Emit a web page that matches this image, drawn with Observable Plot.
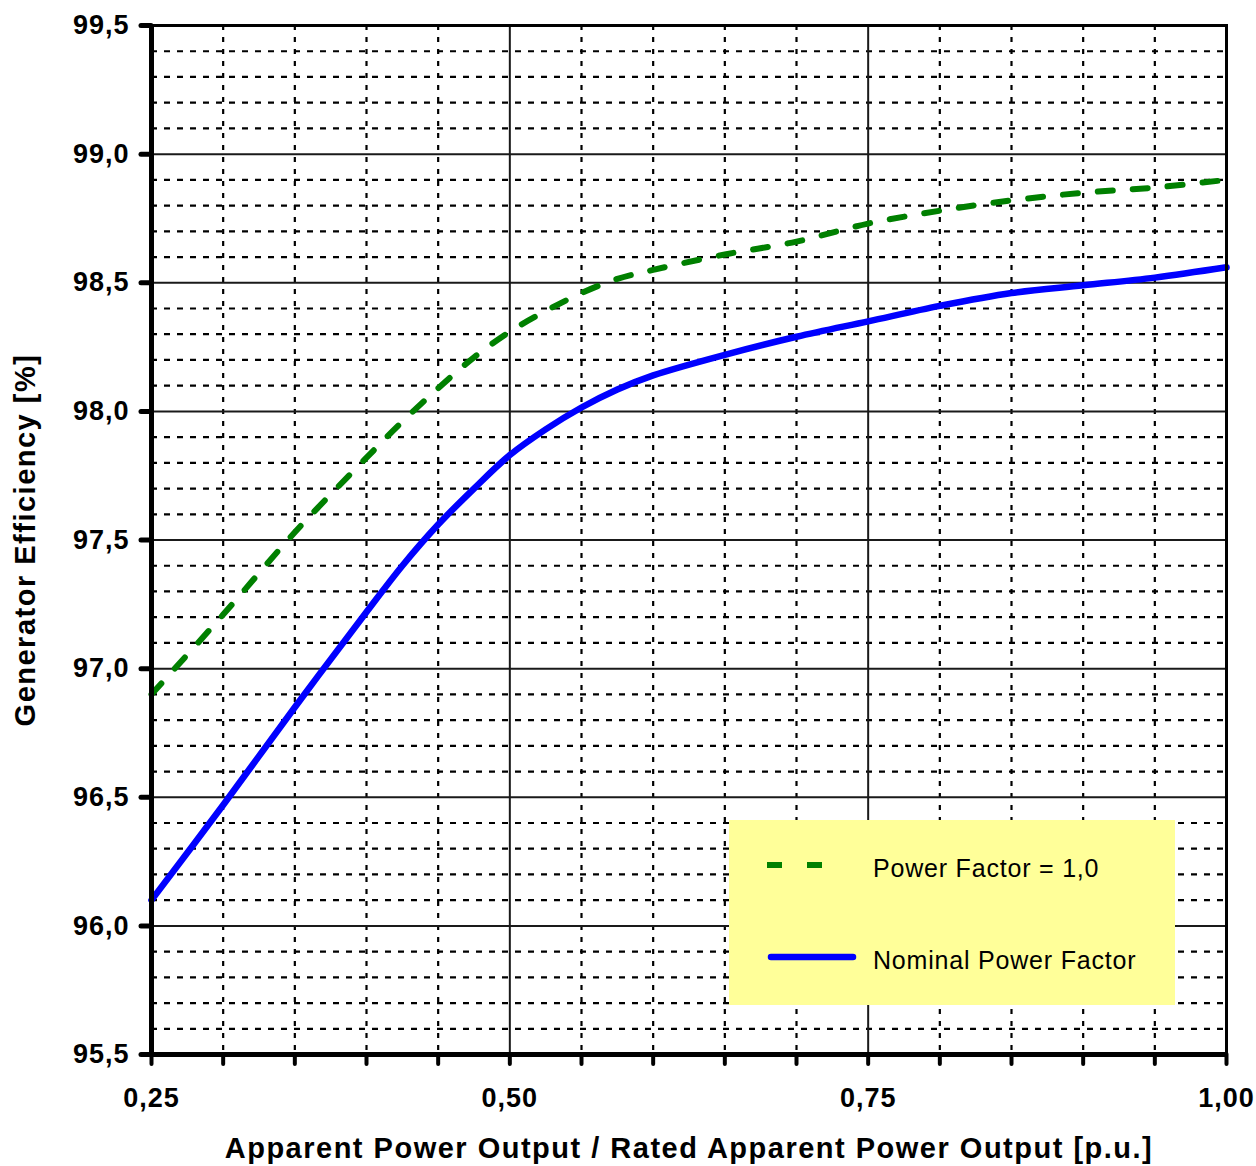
<!DOCTYPE html>
<html>
<head>
<meta charset="utf-8">
<script src="https://cdn.jsdelivr.net/npm/d3@7"></script>
<script src="https://cdn.jsdelivr.net/npm/@observablehq/plot@0.6"></script>
<style>
  html, body { margin: 0; padding: 0; background: #fff; }
  #wrap { position: relative; width: 1256px; height: 1166px; font-family: "Liberation Sans", Arial, sans-serif; }
  #legend { position: absolute; left: 729px; top: 820px; width: 446px; height: 185px; background: #ffff99; }
  #legend .lbl { position: absolute; left: 144px; font-size: 25px; letter-spacing: 0.8px; color: #000; white-space: nowrap; }
</style>
</head>
<body>
<div id="wrap"></div>
<script>
// Data
const loadPU = [0.25, 0.30, 0.35, 0.40, 0.425, 0.45, 0.475, 0.50, 0.525, 0.55, 0.575, 0.60, 0.65, 0.70, 0.75, 0.80, 0.85, 0.90, 0.95, 1.00];
const effPF1 = [96.90, 97.21, 97.53, 97.82, 97.96, 98.09, 98.21, 98.31, 98.39, 98.46, 98.515, 98.55, 98.61, 98.66, 98.73, 98.78, 98.82, 98.85, 98.87, 98.90];
const effNominal = [96.10, 96.47, 96.85, 97.22, 97.40, 97.56, 97.70, 97.83, 97.93, 98.015, 98.085, 98.14, 98.22, 98.29, 98.35, 98.41, 98.46, 98.49, 98.52, 98.56];
const seriesNames = ["Power Factor = 1,0", "Nominal Power Factor"];

const xMajor = [0.25, 0.50, 0.75, 1.00];
const xMinor = [0.30, 0.35, 0.40, 0.45, 0.55, 0.60, 0.65, 0.70, 0.80, 0.85, 0.90, 0.95];
const yMajor = [95.5, 96.0, 96.5, 97.0, 97.5, 98.0, 98.5, 99.0, 99.5];
const yMinor = [95.6, 95.7, 95.8, 95.9, 96.1, 96.2, 96.3, 96.4, 96.6, 96.7, 96.8, 96.9,
                97.1, 97.2, 97.3, 97.4, 97.6, 97.7, 97.8, 97.9, 98.1, 98.2, 98.3, 98.4,
                98.6, 98.7, 98.8, 98.9, 99.1, 99.2, 99.3, 99.4];
const xTickLabels = ["0,25", "0,50", "0,75", "1,00"];
const yTickLabels = ["95,5", "96,0", "96,5", "97,0", "97,5", "98,0", "98,5", "99,0", "99,5"];
const xTitle = "Apparent Power Output / Rated Apparent Power Output [p.u.]";
const yTitle = "Generator Efficiency [%]";

const pf1 = loadPU.map((x, i) => ({x, y: effPF1[i]}));
const nom = loadPU.map((x, i) => ({x, y: effNominal[i]}));

const chart = Plot.plot({
  width: 1256,
  height: 1166,
  marginLeft: 151,
  marginRight: 30,
  marginTop: 25,
  marginBottom: 112,
  style: {fontFamily: "'Liberation Sans', Arial, sans-serif", background: "#fff", overflow: "visible"},
  x: {domain: [0.25, 1.0]},
  y: {domain: [95.5, 99.5]},
  marks: [
    // minor dotted grid
    Plot.ruleX(xMinor, {stroke: "#000", strokeWidth: 2.2, strokeDasharray: "5,7"}),
    Plot.ruleY(yMinor, {stroke: "#000", strokeWidth: 2.2, strokeDasharray: "6,7"}),
    // major solid grid
    Plot.ruleX(xMajor, {stroke: "#1a1a1a", strokeWidth: 2}),
    Plot.ruleY(yMajor, {stroke: "#1a1a1a", strokeWidth: 2}),
    // curves
    Plot.line(pf1, {x: "x", y: "y", curve: "catmull-rom", stroke: "#008000", strokeWidth: 6, strokeDasharray: "15,20"}),
    Plot.line(nom, {x: "x", y: "y", curve: "catmull-rom", stroke: "#0000ff", strokeWidth: 6.5, strokeLinecap: "round"}),
    // frame
    Plot.frame({stroke: "#000", strokeWidth: 3}),
    Plot.ruleX([0.25], {stroke: "#000", strokeWidth: 5}),
    Plot.ruleY([95.5], {stroke: "#000", strokeWidth: 5}),
    // axes
    Plot.axisY(yMajor, {tickSize: 10, tickPadding: 12, strokeWidth: 5, strokeLinecap: "round", fontSize: 27, fontWeight: "bold", fill: "#000", tickFormat: (d) => yTickLabels[yMajor.indexOf(d)], label: null}),
    Plot.axisX(xMinor.concat(xMajor), {tickSize: 10, tickPadding: 0, strokeWidth: 4, strokeLinecap: "round", text: null, label: null}),
    Plot.axisX(xMajor, {tickSize: 0, tickPadding: 33, fontSize: 27, fontWeight: "bold", fill: "#000", tickFormat: (d) => xTickLabels[xMajor.indexOf(d)], label: null}),
    // axis titles
    Plot.text([xTitle], {frameAnchor: "bottom", dy: 94, lineAnchor: "middle", fontSize: 29, fontWeight: "bold", fill: "#000"}),
    Plot.text([yTitle], {frameAnchor: "left", dx: -126, rotate: -90, textAnchor: "middle", lineAnchor: "middle", fontSize: 29, fontWeight: "bold", fill: "#000"})
  ]
});

// stretch text slightly to match the reference letter spacing
const sel = d3.select(chart).selectAll("text");
sel.filter(function() { return this.textContent === xTitle || this.textContent === yTitle; })
  .attr("letter-spacing", "1.5px");
sel.filter(function() { return xTickLabels.includes(this.textContent) || yTickLabels.includes(this.textContent); })
  .attr("letter-spacing", "1px");

const wrap = document.getElementById("wrap");
wrap.appendChild(chart);

// legend box
const legend = document.createElement("div");
legend.id = "legend";
legend.innerHTML = `
  <svg width="446" height="185" style="position:absolute;left:0;top:0">
    <line x1="38" x2="102" y1="45" y2="45" stroke="#008000" stroke-width="6" stroke-dasharray="15,25"></line>
    <line x1="42" x2="124" y1="137" y2="137" stroke="#0000ff" stroke-width="6.5" stroke-linecap="round"></line>
  </svg>
  <div class="lbl" style="top:34px">${seriesNames[0]}</div>
  <div class="lbl" style="top:126px">${seriesNames[1]}</div>`;
wrap.appendChild(legend);
</script>
</body>
</html>
